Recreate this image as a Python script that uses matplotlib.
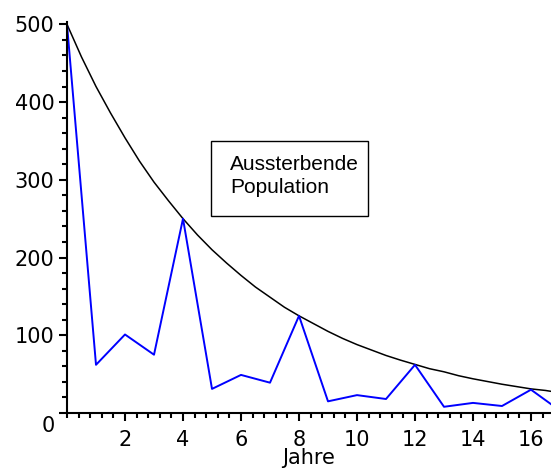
import matplotlib
matplotlib.use("Agg")
import matplotlib.pyplot as plt
import matplotlib.transforms as mtransforms
from matplotlib.patches import Rectangle
from matplotlib.ticker import MultipleLocator

# Jahre, Population (blau)
jahre = [0, 1, 2, 3, 4, 5, 6, 7, 8, 9, 10, 11, 12, 13, 14, 15, 16, 17]
population = [500, 62, 101, 75, 250, 31, 49, 39, 125, 15, 23, 18, 62, 8, 13, 9, 30, 3]

kurve_t = [0, 0.5, 1, 1.5, 2, 2.5, 3, 3.5, 4, 4.5, 5, 5.5, 6, 6.5, 7, 7.5, 8, 8.5,
           9, 9.5, 10, 10.5, 11, 11.5, 12, 12.5, 13, 13.5, 14, 14.5, 15, 15.5,
           16, 16.5, 17]
kurve_y = [500, 458, 420, 386, 354, 324, 297, 273, 250, 229, 210, 193, 177, 162,
           149, 136, 125, 115, 105, 96, 88, 81, 74, 68, 62.5, 57, 53, 48, 44, 40.5,
           37, 34, 31, 29, 26]

xticks = [2, 4, 6, 8, 10, 12, 14, 16]
yticks = [0, 100, 200, 300, 400, 500]

W, H = 551, 468
fig = plt.figure(figsize=(W / 100, H / 100), dpi=100)
ax = fig.add_axes([67 / W, 55 / H, (W - 67) / W, 391 / H])

ax.plot(kurve_t, kurve_y, color='black', linewidth=1.1)
ax.plot(jahre, population, color='#0000ff', linewidth=1.4)

ax.set_xlim(0, (W - 67) / 29)
ax.set_ylim(0, 503)

ax.spines['top'].set_visible(False)
ax.spines['right'].set_visible(False)
ax.spines['left'].set_linewidth(1.5)
ax.spines['bottom'].set_linewidth(1.5)

ax.set_xticks(xticks)
ax.set_yticks(yticks)
ax.xaxis.set_minor_locator(MultipleLocator(0.4))
ax.yaxis.set_minor_locator(MultipleLocator(20))
ax.tick_params(which='major', length=6, width=1.5, labelsize=15)
ax.tick_params(which='minor', length=3.5, width=1.5)
ax.tick_params(axis='x', pad=6)
ax.tick_params(axis='y', pad=3)

# label "0" nach unten schieben, wie im Original
lbl0 = ax.get_yticklabels()[0]
lbl0.set_transform(lbl0.get_transform() +
                   mtransforms.ScaledTranslation(0, -11 / 100, fig.dpi_scale_trans))

ax.set_xlabel('Jahre', fontsize=15, labelpad=-1)

fig.patches.append(Rectangle((211 / W, 1 - 216 / H), 157 / W, 75 / H,
                             transform=fig.transFigure, fill=False,
                             edgecolor='black', linewidth=1))
fig.text(230 / W, 1 - 193 / H, 'Aussterbende\nPopulation',
         fontsize=15, family='Liberation Sans', va='baseline',
         linespacing=1.25)

fig.savefig('out.png', dpi=100)
